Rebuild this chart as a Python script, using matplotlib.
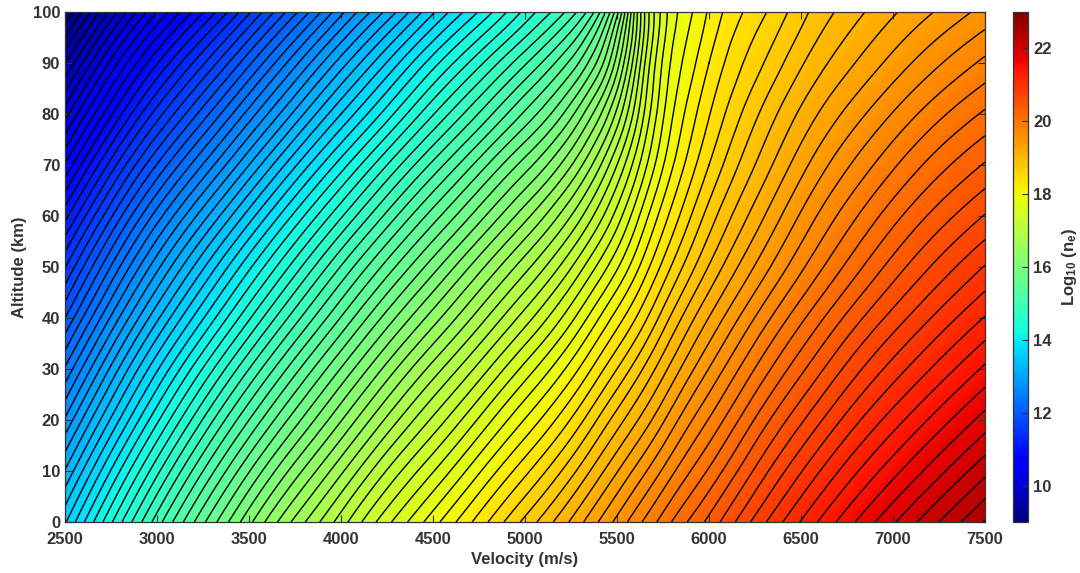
import numpy as np
import matplotlib
matplotlib.use("Agg")
import matplotlib.pyplot as plt
import matplotlib.tri as mtri

plt.rcParams["font.family"] = ["Liberation Sans", "DejaVu Sans"]
plt.rcParams["font.weight"] = "bold"
plt.rcParams["mathtext.fontset"] = "custom"
plt.rcParams["mathtext.rm"] = "Liberation Sans:bold"
plt.rcParams["mathtext.it"] = "Liberation Sans:bold"
plt.rcParams["mathtext.bf"] = "Liberation Sans:bold"

# velocity grid (m/s) and altitude grid (km)
velocity = [2500, 2750, 3000, 3250, 3500, 3750, 4000, 4250, 4500, 4750, 5000, 5250,
            5375, 5500, 5625, 5750, 5875, 6000, 6250, 6500, 6750, 7000, 7250, 7500]
altitude = [0, 10, 20, 30, 40, 50, 60, 70, 80, 90, 100]

# log10 electron density, one row per altitude
alt_000 = [13.60, 14.30, 14.95, 15.55, 16.10, 16.60, 17.05, 17.50, 17.90, 18.30, 18.70, 19.10,
           19.32, 19.54, 19.76, 19.98, 20.19, 20.38, 20.80, 21.19, 21.54, 21.86, 22.16, 22.45]
alt_010 = [13.21, 13.91, 14.56, 15.16, 15.71, 16.21, 16.67, 17.13, 17.53, 17.94, 18.34, 18.75,
           18.98, 19.21, 19.435, 19.66, 19.88, 20.08, 20.50, 20.89, 21.24, 21.55, 21.84, 22.12]
alt_020 = [12.80, 13.50, 14.15, 14.75, 15.30, 15.80, 16.27, 16.73, 17.15, 17.56, 17.97, 18.39,
           18.63, 18.87, 19.10, 19.34, 19.58, 19.79, 20.21, 20.595, 20.945, 21.25, 21.53, 21.80]
alt_030 = [12.38, 13.09, 13.74, 14.33, 14.88, 15.39, 15.87, 16.33, 16.76, 17.17, 17.59, 18.02,
           18.27, 18.52, 18.77, 19.03, 19.28, 19.505, 19.925, 20.305, 20.655, 20.96, 21.23, 21.49]
alt_040 = [11.94, 12.66, 13.31, 13.89, 14.44, 14.96, 15.45, 15.92, 16.35, 16.77, 17.19, 17.64,
           17.90, 18.165, 18.43, 18.72, 18.99, 19.225, 19.645, 20.025, 20.37, 20.675, 20.945, 21.19]
alt_050 = [11.51, 12.23, 12.88, 13.46, 14.01, 14.53, 15.03, 15.50, 15.94, 16.37, 16.79, 17.25,
           17.52, 17.80, 18.11, 18.42, 18.70, 18.95, 19.37, 19.75, 20.09, 20.40, 20.67, 20.91]
alt_060 = [11.05, 11.78, 12.43, 13.00, 13.55, 14.08, 14.58, 15.06, 15.51, 15.94, 16.37, 16.84,
           17.13, 17.46, 17.83, 18.17, 18.46, 18.72, 19.14, 19.52, 19.85, 20.145, 20.405, 20.63]
alt_070 = [10.56, 11.30, 11.95, 12.51, 13.06, 13.60, 14.11, 14.60, 15.06, 15.50, 15.93, 16.41,
           16.73, 17.12, 17.55, 17.95, 18.26, 18.52, 18.94, 19.305, 19.62, 19.895, 20.145, 20.355]
alt_080 = [10.06, 10.80, 11.45, 12.01, 12.56, 13.10, 13.62, 14.11, 14.59, 15.03, 15.47, 15.96,
           16.30, 16.74, 17.30, 17.80, 18.12, 18.37, 18.77, 19.11, 19.395, 19.65, 19.885, 20.085]
alt_090 = [9.55, 10.30, 10.95, 11.50, 12.05, 12.60, 13.13, 13.63, 14.12, 14.56, 15.00, 15.48,
           15.82, 16.35, 17.10, 17.70, 18.00, 18.24, 18.60, 18.92, 19.18, 19.41, 19.625, 19.815]
alt_100 = [9.00, 9.75, 10.40, 10.95, 11.50, 12.05, 12.60, 13.10, 13.60, 14.05, 14.50, 14.95,
           15.30, 15.95, 16.95, 17.60, 17.90, 18.12, 18.45, 18.75, 19.00, 19.20, 19.38, 19.55]

rows = [alt_000, alt_010, alt_020, alt_030, alt_040, alt_050,
        alt_060, alt_070, alt_080, alt_090, alt_100]
V, H = np.meshgrid(velocity, altitude)
Z = np.array(rows)
nh, nv = Z.shape

# triangulate the grid with diagonals running along the contours,
# then refine it with matplotlib's cubic interpolant for smooth lines
v0, v1, h0, h1 = 2500.0, 7500.0, 0.0, 100.0
aspect = 920.0 / 510.0
xn = (V.ravel() - v0) / (v1 - v0) * aspect
yn = (H.ravel() - h0) / (h1 - h0)
triangles = []
for j in range(nh - 1):
    for i in range(nv - 1):
        k = j * nv + i
        triangles.append([k, k + 1, k + nv + 1])
        triangles.append([k, k + nv + 1, k + nv])
tri = mtri.Triangulation(xn, yn, np.array(triangles))
refiner = mtri.UniformTriRefiner(tri)
interp = mtri.CubicTriInterpolator(tri, Z.ravel(), kind="min_E")
tri_fine, z_fine = refiner.refine_field(Z.ravel(), triinterpolator=interp, subdiv=3)
tri_plot = mtri.Triangulation(tri_fine.x / aspect * (v1 - v0) + v0,
                              tri_fine.y * (h1 - h0) + h0,
                              tri_fine.triangles)

vmin, vmax = 9.0, 23.0
fill_levels = np.linspace(vmin, vmax, 421)
line_levels = np.linspace(vmin, vmax, 101)

fig = plt.figure(figsize=(10.8, 5.73), dpi=100)
ax = fig.add_axes([0.0602, 0.089, 0.8518, 0.890])
cax = fig.add_axes([0.9375, 0.089, 0.0148, 0.890])

ax.tricontourf(tri_plot, z_fine, levels=fill_levels, cmap="jet",
               vmin=vmin, vmax=vmax, extend="both")
ax.tricontour(tri_plot, z_fine, levels=line_levels, colors="black", linewidths=1.0)

ax.set_xlim(v0, v1)
ax.set_ylim(h0, h1)
ax.set_xticks(np.arange(2500, 7501, 500))
ax.set_yticks(np.arange(0, 101, 10))

tick_color = "#333333"
ax.tick_params(direction="in", length=5, width=0.8, top=True, right=True,
               labelsize=12, colors=tick_color, labelcolor=tick_color)
ax.tick_params(axis="x", pad=7)
for s in ax.spines.values():
    s.set_color("#333333")
    s.set_linewidth(0.9)
ax.set_xlabel("Velocity (m/s)", fontsize=12, fontweight="bold", color=tick_color, labelpad=4)
ax.set_ylabel("Altitude (km)", fontsize=12, fontweight="bold", color=tick_color, labelpad=4)

sm = matplotlib.cm.ScalarMappable(norm=matplotlib.colors.Normalize(vmin, vmax), cmap="jet")
cb = fig.colorbar(sm, cax=cax)
cb.set_ticks(np.arange(10, 23, 2))
cb.ax.tick_params(direction="in", length=4, width=0.8, labelsize=12,
                  colors=tick_color, labelcolor=tick_color)
cb.outline.set_edgecolor("#333333")
cb.outline.set_linewidth(0.9)
cb.set_label(r"Log$_{10}$ (n$_e$)", fontsize=12, fontweight="bold", color=tick_color, labelpad=6)

fig.savefig("out.png", dpi=100)
